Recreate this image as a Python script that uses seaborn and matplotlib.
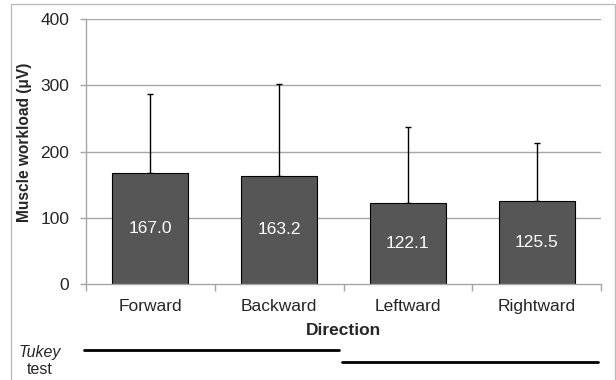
import matplotlib
matplotlib.use("Agg")
import matplotlib.pyplot as plt
import seaborn as sns
import numpy as np
from matplotlib.patches import Rectangle
from matplotlib.lines import Line2D

directions = ["Forward", "Backward", "Leftward", "Rightward"]
means = [167.0, 163.2, 122.1, 125.5]
sds = [120.0, 138.0, 115.0, 87.0]
yticks = [0, 100, 200, 300, 400]

sns.set_theme(style="white")
plt.rcParams["font.family"] = ["Liberation Sans", "DejaVu Sans"]

fig = plt.figure(figsize=(6.16, 3.8), dpi=100)
ax = fig.add_axes([86 / 616, 1 - 284 / 380, (601 - 86) / 616, (284 - 19) / 380])

grid_c = "#a6a6a6"
fs = 12.5
for v in yticks[1:]:
    ax.axhline(v, color=grid_c, lw=1.0, zorder=0)

sns.barplot(x=directions, y=means, color="#565656", edgecolor="black",
            linewidth=0.8, width=0.59, errorbar=None, saturation=1, ax=ax, zorder=2)

xs = np.arange(len(directions))
ax.errorbar(xs, means, yerr=[np.zeros(len(sds)), sds], fmt="none",
            ecolor="black", elinewidth=1.0, capsize=2.5, capthick=1.0, zorder=1)

for x, m in zip(xs, means):
    ax.text(x, m / 2, f"{m:.1f}", ha="center", va="center", color="white",
            fontsize=fs, zorder=3)

ax.set_ylim(0, 400)
ax.set_xlim(-0.5, len(directions) - 0.5)
ax.set_yticks(yticks)
ax.set_yticklabels([str(v) for v in yticks], fontsize=fs)
ax.set_xticks(xs)
ax.set_xticklabels(directions, fontsize=fs)
ax.set_xticks(np.arange(-0.5, len(directions)), minor=True)
ax.tick_params(axis="x", which="major", length=0, pad=11)
ax.tick_params(axis="x", which="minor", length=5, color=grid_c, width=1, bottom=True)
ax.tick_params(axis="y", length=4, color=grid_c, width=1, left=True, pad=8)

for s in ["top", "right"]:
    ax.spines[s].set_visible(False)
for s in ["left", "bottom"]:
    ax.spines[s].set_color(grid_c)
    ax.spines[s].set_linewidth(1.0)

ax.set_xlabel("Direction", fontsize=fs, fontweight="bold", labelpad=6)
ax.set_ylabel("Muscle workload (μV)", fontsize=11.2, fontweight="bold")
ax.yaxis.set_label_coords((32 - 86) / (601 - 86), (284 - 142.5) / (284 - 19))

# outer chart border
fig.patches.append(Rectangle((11 / 616, -0.1), (615 - 11) / 616, 1.1 - 4 / 380,
                             transform=fig.transFigure, fill=False,
                             edgecolor="#bdbdbd", lw=1.0))

# Tukey grouping lines
fig.add_artist(Line2D([84 / 616, 339 / 616], [1 - 350 / 380] * 2,
                      transform=fig.transFigure, color="black", lw=2))
fig.add_artist(Line2D([342 / 616, 598 / 616], [1 - 362 / 380] * 2,
                      transform=fig.transFigure, color="black", lw=2))
fig.text(40 / 616, 1 - 352 / 380, "Tukey", style="italic", fontsize=11.5,
         ha="center", va="center")
fig.text(40 / 616, 1 - 369 / 380, "test", fontsize=11.5, ha="center", va="center")

fig.savefig("out.png", dpi=100)
